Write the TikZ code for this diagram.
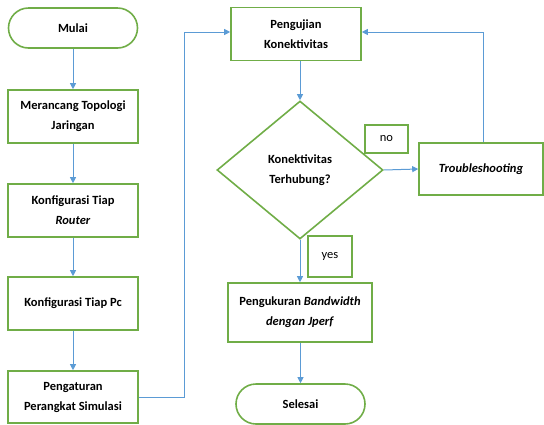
\documentclass[tikz,border=0pt]{standalone}
\usepackage{fontspec}
\setmainfont{Carlito}
\usetikzlibrary{shapes.geometric, arrows.meta}

\definecolor{boxgreen}{RGB}{112,173,71}
\definecolor{flowblue}{RGB}{91,155,213}

\begin{document}
\begin{tikzpicture}[x=1pt, y=-1pt,
terminal/.style={draw=boxgreen, line width=1.6pt, rounded corners=20pt, minimum width=129pt, minimum height=40pt, inner sep=0pt, font=\bfseries\fontsize{12.5}{20}\selectfont, align=center},
process/.style={draw=boxgreen, line width=1.6pt, minimum width=130pt, minimum height=53pt, inner sep=0pt, font=\bfseries\fontsize{12.5}{20}\selectfont, align=center},
decision/.style={diamond, draw=boxgreen, line width=1.6pt, minimum width=166pt, minimum height=138pt, inner sep=0pt, font=\bfseries\fontsize{12.5}{20}\selectfont, align=center},
answer/.style={draw=boxgreen, line width=1.6pt, inner sep=0pt, font=\fontsize{12.5}{15}\selectfont},
flow/.style={draw=flowblue, line width=1pt, -{Triangle[length=6pt, width=6pt]}}]
\useasboundingbox (0,0) rectangle (544,424);
% left column
\node[terminal] (mulai) at (73,28) {Mulai};
\node[process] (merancang) at (73,116.5) {Merancang Topologi\\Jaringan};
\node[process] (router) at (73,210.5) {Konfigurasi Tiap\\\textit{Router}};
\node[process] (pc) at (73,303.5) {Konfigurasi Tiap Pc};
\node[process, minimum height=52pt] (atur) at (73,397) {Pengaturan\\Perangkat Simulasi};
% right column
\node[process] (uji) at (296,34) {Pengujian\\Konektivitas};
\node[decision] (cek) at (300,170) {Konektivitas\\Terhubung?};
\node[process, minimum width=124pt, minimum height=52pt] (trouble) at (481,169) {\textit{Troubleshooting}};
\node[process, minimum width=144pt, minimum height=59pt] (ukur) at (300,312.5) {Pengukuran \textit{Bandwidth}\\\textit{dengan Jperf}};
\node[terminal] (selesai) at (300.5,404) {Selesai};
% labels
\node[answer, minimum width=43pt, minimum height=28pt] (no) at (386.5,139) {no};
\node[answer, minimum width=44pt, minimum height=41pt] (yes) at (330,256.5) {yes};
\coordinate (bus) at (184,0);
% arrows
\draw[flow] (mulai) -- (merancang);
\draw[flow] (merancang) -- (router);
\draw[flow] (router) -- (pc);
\draw[flow] (pc) -- (atur);
\draw[flow] (atur.east) -- (atur.east -| bus) -- ([yshift=2pt]uji.west -| bus) -- ([yshift=2pt]uji.west);
\draw[flow] (cek.north |- uji.south) -- (cek.north);
\draw[flow] (cek.east) -- (trouble.west);
\draw[flow] ([xshift=2pt]trouble.north) |- ([yshift=2pt]uji.east);
\draw[flow] (cek.south) -- (cek.south |- ukur.north);
\draw[flow] (ukur.south -| selesai.north) -- (selesai.north);
\end{tikzpicture}
\end{document}
